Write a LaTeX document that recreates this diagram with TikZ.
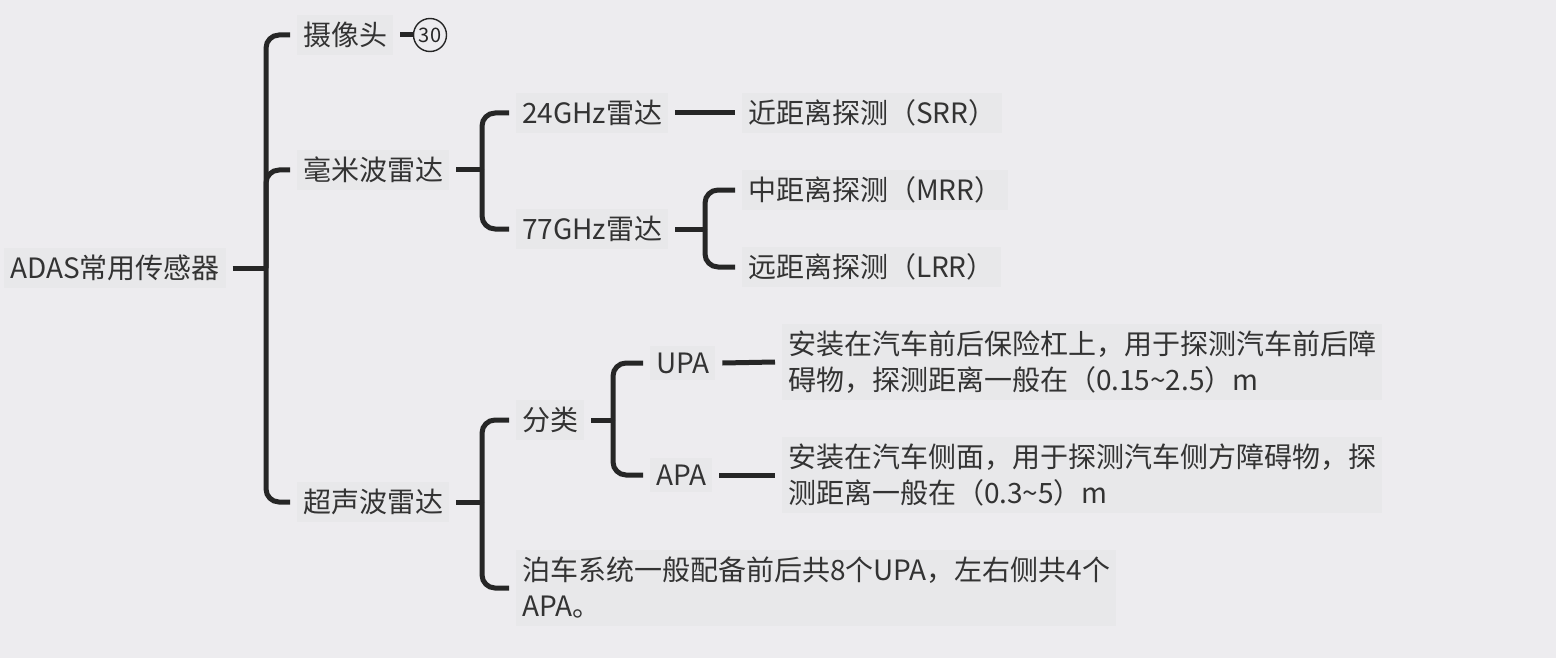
\documentclass[tikz,border=0pt]{standalone}
\usepackage{fontspec}
\newfontfamily\cjk{Noto Sans CJK SC}
\definecolor{bg}{HTML}{EDECEF}
\definecolor{nodebg}{HTML}{E8E8EA}
\definecolor{txt}{HTML}{333333}
\definecolor{ln}{HTML}{262626}
\tikzset{
  topic/.style={anchor=west, fill=nodebg, text=txt, inner xsep=6pt, inner ysep=7pt, outer xsep=7pt, outer ysep=0pt,
    font=\cjk\fontsize{28}{36}\selectfont, align=left},
  conn/.style={draw=ln, line width=5pt, rounded corners=13pt},
  badge/.style={circle, draw=ln, line width=1.4pt, minimum size=33pt, inner sep=0pt, text=ln,
    font=\cjk\fontsize{20}{20}\selectfont, fill=bg}
}
\begin{document}
\begin{tikzpicture}[x=1pt,y=-1pt]
\path[fill=bg] (0,0) rectangle (1556,658);
\useasboundingbox (0,0) rectangle (1556,658);

\node[topic] (root) at (-3,268) {ADAS常用传感器};
\node[topic] (cam) at (290,35) {摄像头};
\node[badge] (num) at (430,35) {30};
\node[topic] (mmw) at (290,170) {毫米波雷达};
\node[topic] (ult) at (290,502) {超声波雷达};
\node[topic] (g24) at (509,113) {24GHz雷达};
\node[topic] (g77) at (509,229) {77GHz雷达};
\node[topic] (srr) at (735,113) {近距离探测（SRR）};
\node[topic] (mrr) at (735,190) {中距离探测（MRR）};
\node[topic] (lrr) at (735,267) {远距离探测（LRR）};
\node[topic] (cls) at (509,420) {分类};
\node[topic] (park) at (509,588) {泊车系统一般配备前后共8个UPA，左右侧共4个\\APA。};
\node[topic] (upa) at (643,363) {UPA};
\node[topic] (apa) at (643,475) {APA};
\node[topic] (upad) at (775,362) {安装在汽车前后保险杠上，用于探测汽车前后障\\碍物，探测距离一般在（0.15\char`\~2.5）m};
\node[topic] (apad) at (775,475) {安装在汽车侧面，用于探测汽车侧方障碍物，探\\测距离一般在（0.3\char`\~5）m};

\coordinate (t1) at (266,268);
\coordinate (t2) at (482,170);
\coordinate (t3) at (705,229);
\coordinate (t4) at (482,502);
\coordinate (t5) at (613,420);

\draw[conn] (root.east) -- (t1);
\draw[conn] (t1) |- (cam.west);
\draw[conn] (t1) |- (mmw.west);
\draw[conn] (t1) |- (ult.west);
\draw[conn] (cam.east) -- (num.west);

\draw[conn] (mmw.east) -- (t2);
\draw[conn] (t2) |- (g24.west);
\draw[conn] (t2) |- (g77.west);
\draw[conn] (g24.east) -- (srr.west);
\draw[conn] (g77.east) -- (t3);
\draw[conn] (t3) |- (mrr.west);
\draw[conn] (t3) |- (lrr.west);

\draw[conn] (ult.east) -- (t4);
\draw[conn] (t4) |- (cls.west);
\draw[conn] (t4) |- (park.west);
\draw[conn] (cls.east) -- (t5);
\draw[conn] (t5) |- (upa.west);
\draw[conn] (t5) |- (apa.west);
\draw[conn] (upa.east) -- (upad.west);
\draw[conn] (apa.east) -- (apad.west);
\end{tikzpicture}
\end{document}
